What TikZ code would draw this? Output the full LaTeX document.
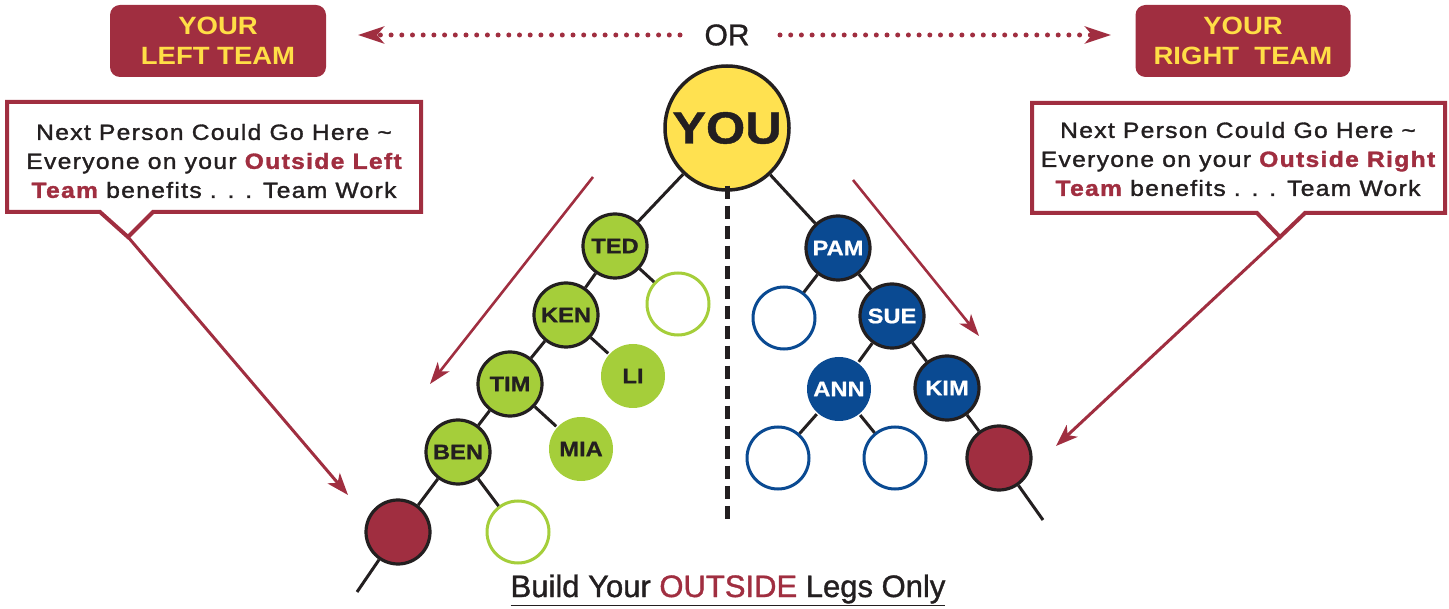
\documentclass[tikz,border=0pt]{standalone}
\usepackage{fontspec}
\setmainfont{Liberation Sans}
\usetikzlibrary{arrows.meta}
\definecolor{maroon}{RGB}{160,46,64}
\definecolor{youyellow}{RGB}{255,225,80}
\definecolor{txtyellow}{RGB}{255,222,70}
\definecolor{leafgreen}{RGB}{165,206,58}
\definecolor{navy}{RGB}{10,74,146}
\definecolor{ink}{RGB}{35,31,32}
\tikzset{
  teambox/.style={fill=maroon, rounded corners=10pt, minimum width=216pt, minimum height=72pt,
    text=txtyellow, align=center, inner sep=0pt,
    font=\fontsize{25}{30}\selectfont\bfseries\addfontfeature{FakeStretch=1.1}},
  callout/.style={draw=maroon, line width=4pt, fill=white, line join=miter},
  callouttext/.style={align=center, text=ink, inner sep=0pt,
    font=\fontsize{22}{29}\selectfont\addfontfeature{FakeStretch=1.12,LetterSpace=6,FakeBold=1.5}},
  person/.style={circle, minimum size=64pt, inner sep=0pt, draw=ink, line width=3.2pt,
    font=\fontsize{21}{21}\selectfont\bfseries\addfontfeature{FakeStretch=1.13,FakeBold=0.8}},
  greenp/.style={person, fill=leafgreen, text=ink},
  greenflat/.style={person, fill=leafgreen, draw=none, text=ink},
  bluep/.style={person, fill=navy, text=white},
  blueflat/.style={person, fill=navy, draw=none, text=white},
  greenempty/.style={person, fill=white, draw=leafgreen, line width=3pt, minimum size=62pt},
  blueempty/.style={person, fill=white, draw=navy, line width=3pt, minimum size=62pt},
  nextp/.style={person, fill=maroon},
  link/.style={draw=ink, line width=3pt},
  redarrow/.style={draw=maroon, line width=3pt, -{Stealth[length=22pt,width=16pt,inset=6pt]}},
  thinarrow/.style={draw=maroon, line width=2.6pt, -{Stealth[length=22pt,width=15pt,inset=6pt]}},
  dotarrow/.style={draw=maroon, line width=5pt, line cap=round, dash pattern=on 0pt off 10.7pt,
    -{Stealth[length=26pt,width=17pt,inset=7pt,line cap=butt]}},
}
\newcommand{\hlw}[1]{{\color{maroon}\bfseries #1}}
\begin{document}
\begin{tikzpicture}[x=1pt,y=-1pt]
\useasboundingbox (0,0) rectangle (1449,609);

% team boxes
\node[teambox] (leftteam) at (218,41) {YOUR\\LEFT TEAM};
\node[teambox, minimum width=215pt] (rightteam) at (1243,41) {YOUR\\RIGHT\ \ TEAM};

% OR and dotted arrows
\node[font=\fontsize{30}{30}\selectfont\addfontfeature{FakeBold=1}, text=ink, inner sep=0pt] (or) at (727,35) {OR};
\coordinate (ldotstart) at (680,35);
\coordinate (ldotend) at (358,35);
\coordinate (rdotstart) at (780,35);
\coordinate (rdotend) at (1111,35);
\draw[dotarrow] (ldotstart) -- (ldotend);
\draw[dotarrow] (rdotstart) -- (rdotend);

% callouts
\draw[callout] (7,102) -- (421,102) -- (421,212) -- (153,212) -- (128,237) -- (100,212) -- (7,212) -- cycle;
\node[callouttext] (lefttext) at (214,161) {Next Person Could Go Here \textasciitilde\\Everyone on your \hlw{Outside Left}\\\hlw{Team} benefits . . . Team Work};
\draw[callout] (1032,103) -- (1445,103) -- (1445,213) -- (1305,213) -- (1280,237) -- (1257,213) -- (1032,213) -- cycle;
\node[callouttext] (righttext) at (1238,159) {Next Person Could Go Here \textasciitilde\\Everyone on your \hlw{Outside Right}\\\hlw{Team} benefits . . . Team Work};

\coordinate (lptr) at (128,237);
\coordinate (lptrtip) at (348,495);
\coordinate (rptr) at (1280,237);
\coordinate (rptrtip) at (1056,446);
\draw[redarrow] (lptr) -- (lptrtip);
\draw[redarrow] (rptr) -- (rptrtip);

% straight arrows
\coordinate (lastart) at (593,177);
\coordinate (latip) at (430,384);
\coordinate (rastart) at (853,180);
\coordinate (ratip) at (979,336);
\draw[thinarrow] (lastart) -- (latip);
\draw[thinarrow] (rastart) -- (ratip);

% YOU
\node[person, fill=youyellow, minimum size=124pt, line width=3.5pt,
  font=\fontsize{45}{45}\selectfont\bfseries\addfontfeature{FakeStretch=1.12,FakeBold=1}, text=ink] (you) at (727,128) {YOU};

% dashed divider
\coordinate (dashend) at (727,521);
\draw[draw=ink, line width=5pt, dash pattern=on 13pt off 7pt] ([yshift=6pt]you.south) -- (dashend);

% left tree
\node[greenp] (ted) at (615,246) {TED};
\node[greenempty] (le1) at (678,304) {};
\node[greenp] (ken) at (566,315) {KEN};
\node[greenflat] (li) at (633,376) {LI};
\node[greenp] (tim) at (510,384) {TIM};
\node[greenflat] (mia) at (581,449) {MIA};
\node[greenp] (ben) at (458,452) {BEN};
\node[nextp] (lnext) at (398,532) {};
\node[greenempty] (le2) at (518,532) {};
\coordinate (lend) at (357,592);

% right tree
\node[bluep] (pam) at (838,248) {PAM};
\node[blueempty] (re1) at (784,318) {};
\node[bluep] (sue) at (892,316) {SUE};
\node[blueflat] (ann) at (839,389) {ANN};
\node[bluep] (kim) at (947,388) {KIM};
\node[blueempty] (re2) at (778,458) {};
\node[blueempty] (re3) at (895,458) {};
\node[nextp] (rnext) at (999,458) {};
\coordinate (rend) at (1043,520);

% links
\draw[link] (you) -- (ted);
\draw[link] (ted) -- (le1);
\draw[link] (ted) -- (ken);
\draw[link] (ken) -- (li);
\draw[link] (ken) -- (tim);
\draw[link] (tim) -- (mia);
\draw[link] (tim) -- (ben);
\draw[link] (ben) -- (lnext);
\draw[link] (ben) -- (le2);
\draw[link] (lnext) -- (lend);
\draw[link] (you) -- (pam);
\draw[link] (pam) -- (re1);
\draw[link] (pam) -- (sue);
\draw[link] (sue) -- (ann);
\draw[link] (sue) -- (kim);
\draw[link] (ann) -- (re2);
\draw[link] (ann) -- (re3);
\draw[link] (kim) -- (rnext);
\draw[link] (rnext) -- (rend);

% bottom caption
\node[font=\fontsize{31}{31}\selectfont\addfontfeature{FakeBold=1.2}, text=ink, inner sep=0pt] (caption) at (728,590)
  {\underline{Build Your \textcolor{maroon}{OUTSIDE} Legs Only}};
\end{tikzpicture}
\end{document}
